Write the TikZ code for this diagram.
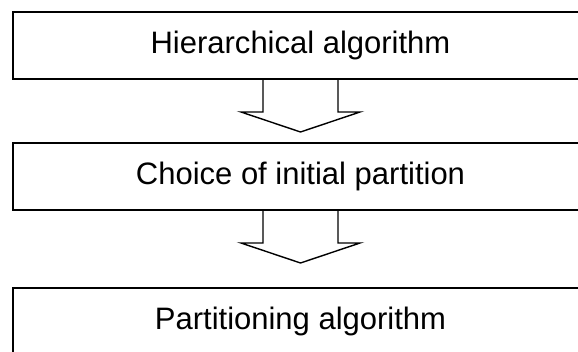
\documentclass[tikz,border=0pt]{standalone}
\usepackage{fontspec}
\setmainfont{Liberation Sans}
\usetikzlibrary{calc}
\begin{document}
\begin{tikzpicture}[x=1pt,y=-1pt,
  stepbox/.style={draw=black, line width=2pt, minimum width=575pt, minimum height=67pt,
    inner sep=0pt, outer sep=0pt, font=\fontsize{31}{36}\selectfont},
  blockarrow/.style={draw=black, line width=1.4pt, line join=miter}]
\useasboundingbox (0,0) rectangle (578,351);
\node[stepbox] (top) at (300.5,45.5) {Hierarchical algorithm};
\node[stepbox] (mid) at (300.5,176.5) {Choice of initial partition};
\node[stepbox] (bot) at (300.5,321.5) {Partitioning algorithm};
\draw[blockarrow] ($(top.south)+(-37.5,0)$) -- ++(0,33) -- ++(-22,0)
  -- ($(top.south)+(0,53)$) -- ++(59.5,-20) -- ++(-22,0) -- ++(0,-33);
\draw[blockarrow] ($(mid.south)+(-37.5,0)$) -- ++(0,33) -- ++(-22,0)
  -- ($(mid.south)+(0,53)$) -- ++(59.5,-20) -- ++(-22,0) -- ++(0,-33);
\end{tikzpicture}
\end{document}
